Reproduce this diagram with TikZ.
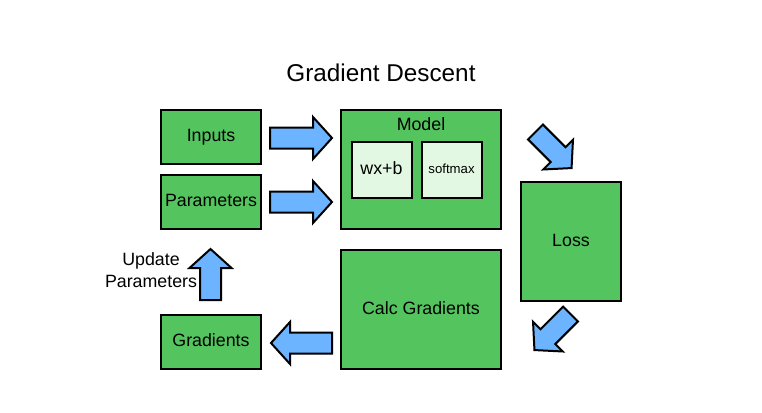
\documentclass[tikz,border=0pt]{standalone}
\usepackage{fontspec}
\setmainfont{Liberation Sans}
\definecolor{boxgreen}{RGB}{84,196,95}
\definecolor{lightgreen}{RGB}{227,248,227}
\definecolor{arrowblue}{RGB}{108,180,255}
\newcommand\drawblockarrow[5]{%
  \begin{scope}[shift={(#2,#3)},rotate=#4]
    \draw[blockarrow] (0,-10.5) -- (#5-19,-10.5) -- (#5-19,-21) -- (#5,0) -- (#5-19,21) -- (#5-19,10.5) -- (0,10.5) -- cycle;
    \coordinate (#1) at (0,0);
  \end{scope}}
\begin{document}
\begin{tikzpicture}[x=1pt,y=-1pt,
  txt/.style={font=\fontsize{17.8}{21}\selectfont,text height=12.8pt,text depth=3.7pt},
  box/.style={draw=black,line width=2pt,fill=boxgreen,inner sep=0pt,txt},
  inbox/.style={draw=black,line width=2pt,fill=lightgreen,inner sep=0pt,minimum width=60pt,minimum height=56pt},
  blockarrow/.style={draw=black,line width=2pt,fill=arrowblue,line join=miter},
  lbl/.style={inner sep=0pt,font=\fontsize{17.8}{21}\selectfont}]
\useasboundingbox[fill=white] (0,0) rectangle (762,412);
\node[inner sep=0pt,font=\fontsize{24.3}{29}\selectfont,text height=17.5pt,text depth=5.1pt] (title) at (381,75) {Gradient Descent};
\node[box,minimum width=100pt,minimum height=54pt] (inputs) at (211,137) {Inputs};
\node[box,minimum width=100pt,minimum height=54pt] (params) at (211,202) {Parameters};
\node[box,minimum width=160pt,minimum height=119pt] (model) at (421,169.5) {};
\node[inner sep=0pt,txt] (modellbl) at (421,125.5) {Model};
\node[inbox,txt] (wxb) at (381.5,170) {wx+b};
\node[inbox,font=\fontsize{13.2}{16}\selectfont,text height=9.5pt,text depth=2.8pt] (softmax) at (451.5,170) {softmax};
\node[box,minimum width=100pt,minimum height=119pt] (loss) at (571,241.5) {Loss};
\node[box,minimum width=160pt,minimum height=119pt] (calc) at (421,309.5) {Calc Gradients};
\node[box,minimum width=100pt,minimum height=54pt] (grads) at (211,342) {Gradients};
\node[lbl,align=center,font=\fontsize{17.8}{22}\selectfont] (update) at (151,270) {Update\\Parameters};
\drawblockarrow{a1}{270}{138}{0}{62}
\drawblockarrow{a2}{270}{202}{0}{62}
\drawblockarrow{a3}{535.5}{132}{-45}{51}
\drawblockarrow{a4}{570.5}{314}{-135}{51}
\drawblockarrow{a5}{332}{343}{180}{61}
\drawblockarrow{a6}{210.5}{300}{90}{51}
\end{tikzpicture}
\end{document}
